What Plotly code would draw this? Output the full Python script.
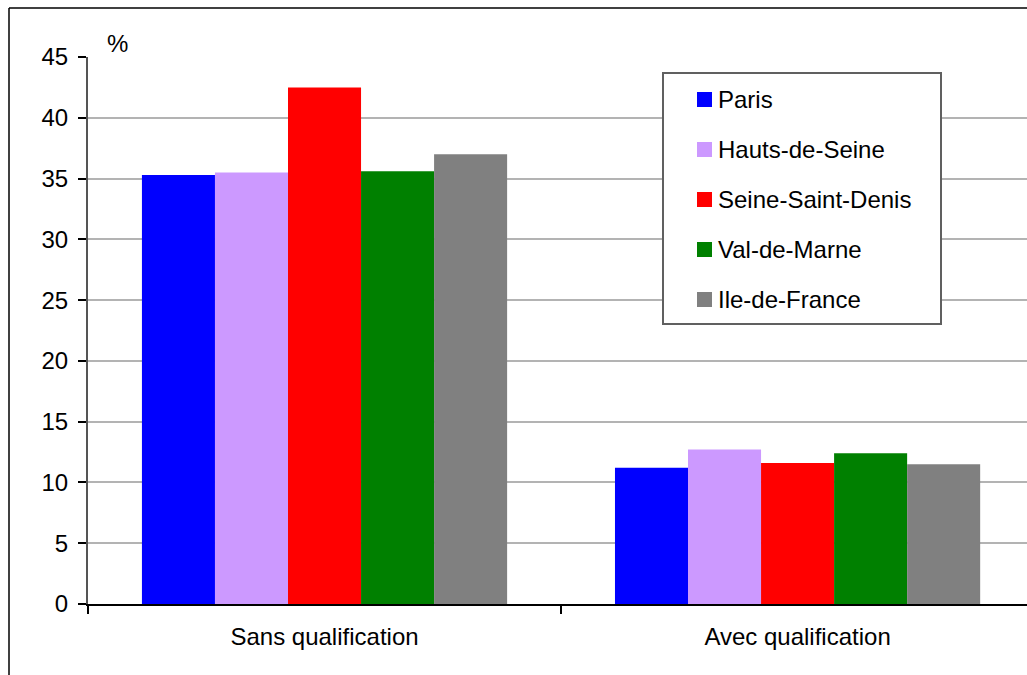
import plotly.graph_objects as go

categories = ["Sans qualification", "Avec qualification"]
series = ["Paris", "Hauts-de-Seine", "Seine-Saint-Denis", "Val-de-Marne", "Ile-de-France"]
paris = [35.3, 11.2]
hauts_de_seine = [35.5, 12.7]
seine_saint_denis = [42.5, 11.6]
val_de_marne = [35.6, 12.4]
ile_de_france = [37.0, 11.5]
y_ticks = [0, 5, 10, 15, 20, 25, 30, 35, 40, 45]

values = [paris, hauts_de_seine, seine_saint_denis, val_de_marne, ile_de_france]
colors = ["#0000FF", "#CC99FF", "#FF0000", "#008000", "#808080"]

font = dict(family="Liberation Sans, Arial", size=24, color="black")

# plot area in pixels: x 88..1027, y 57..604
def px_x(p):
    return (p - 88) / 939

def px_y(p):
    return (604 - p) / 547

fig = go.Figure()
for name, vals, col in zip(series, values, colors):
    fig.add_trace(go.Bar(x=categories, y=vals, name=name,
                         marker=dict(color=col, line=dict(width=0))))

fig.update_layout(
    width=1027, height=675,
    margin=dict(l=88, r=0, t=57, b=71),
    paper_bgcolor="white", plot_bgcolor="white",
    font=font,
    barmode="group", bargap=0.228, bargroupgap=0,
    showlegend=False,
)
fig.update_xaxes(range=[-0.5, 1.485], showline=True, linecolor="black", linewidth=2,
                 ticks="outside", tickson="boundaries", ticklen=8, tickcolor="black",
                 tickwidth=1.5, showgrid=False, tickfont=font, ticklabelstandoff=10)
fig.update_yaxes(range=[0, 45], tickvals=y_ticks, showline=True, linecolor="#555555",
                 linewidth=2, ticks="outside", ticklen=8, tickcolor="black", tickwidth=1.5,
                 showgrid=True, gridcolor="#b3b3b3", gridwidth=1.5, zeroline=False,
                 tickfont=font, ticklabelstandoff=5)

fig.add_annotation(text="%", xref="paper", yref="paper", x=px_x(117), y=px_y(43),
                   showarrow=False, font=font, xanchor="center", yanchor="middle")

# legend box, drawn by hand to match the original spacing
fig.add_shape(type="rect", xref="paper", yref="paper", x0=px_x(663), x1=px_x(941),
              y0=px_y(73), y1=px_y(324), fillcolor="white",
              line=dict(color="#606060", width=2), layer="above")
for i, (name, col) in enumerate(zip(series, colors)):
    cy = 99.5 + 50 * i
    fig.add_shape(type="rect", xref="paper", yref="paper", x0=px_x(697), x1=px_x(712),
                  y0=px_y(cy - 7.5), y1=px_y(cy + 7.5), fillcolor=col,
                  line=dict(width=0), layer="above")
    fig.add_annotation(text=name, xref="paper", yref="paper", x=px_x(716), y=px_y(cy),
                       showarrow=False, font=font, xanchor="left", yanchor="middle")

# outer chart border (left and top edges visible)
fig.add_shape(type="line", xref="paper", yref="paper", x0=px_x(9), x1=px_x(9),
              y0=px_y(8), y1=px_y(700), line=dict(color="black", width=1.5))
fig.add_shape(type="line", xref="paper", yref="paper", x0=px_x(9), x1=1.1,
              y0=px_y(8), y1=px_y(8), line=dict(color="black", width=1.5))

fig.write_html("out.html", config={"displayModeBar": False},
               post_script="document.body.style.margin='0';")
